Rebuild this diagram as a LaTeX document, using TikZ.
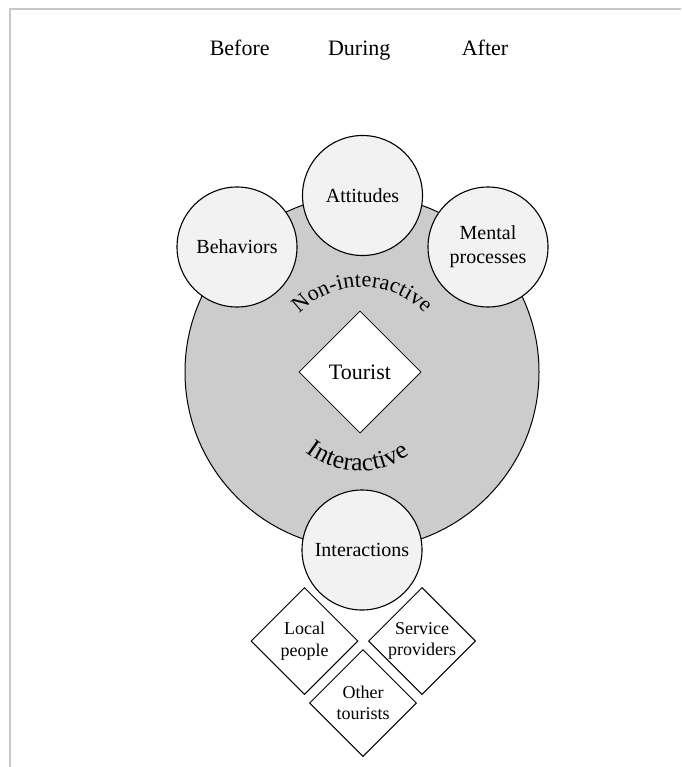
\documentclass[tikz,border=0pt]{standalone}
\usepackage{fontspec}
\setmainfont{Liberation Serif}
\usetikzlibrary{shapes.geometric,decorations.text,shadows}
\definecolor{discgray}{HTML}{CCCCCC}
\definecolor{bubble}{HTML}{F2F2F2}
\definecolor{framegray}{HTML}{C8C8C8}
\begin{document}
\begin{tikzpicture}[x=1pt,y=-1pt,
  phase/.style={anchor=base,inner sep=0pt,font=\fontsize{22}{26}\selectfont},
  bigdisc/.style={circle,draw,line width=1pt,fill=discgray,minimum size=354pt,inner sep=0pt},
  bubblenode/.style={circle,draw,line width=1.1pt,fill=bubble,minimum size=120pt,inner sep=0pt,
    align=center,font=\fontsize{20}{24}\selectfont},
  tourbox/.style={diamond,draw,line width=0.8pt,fill=white,minimum width=122pt,minimum height=122pt,inner sep=0pt,
    drop shadow={opacity=0.25,shadow xshift=0.8pt,shadow yshift=-1.2pt},font=\fontsize{22}{26}\selectfont},
  partner/.style={diamond,draw,line width=1pt,fill=white,minimum width=107pt,minimum height=107pt,inner sep=0pt},
  partnertext/.style={align=center,inner sep=0pt,font=\fontsize{18}{21.5}\selectfont}
]
\useasboundingbox (0,0) rectangle (681,767);
% page frame
\draw[framegray,line width=2pt] (9.5,767) -- (9.5,9.5) -- (681,9.5);

% phases
\node[phase] (before) at (239.7,55.5) {Before};
\node[phase] (during) at (359.2,55.5) {During};
\node[phase] (after)  at (485,55.5) {After};

% central disc with the tourist
\node[bigdisc] (disc) at (362,372) {};
\node[tourbox] (tourist) at (360,372) {Tourist};

% curved labels inside the disc
\coordinate (upperhub) at (362,374);
\coordinate (lowerhub) at (359,385);
\path[decorate,decoration={text along path,text align=fit to path,
    text={|\fontsize{22}{22}\selectfont|Non-interactive}}]
  (upperhub) ++(136:87pt) arc[start angle=136,end angle=44,radius=87pt];
\path[decorate,decoration={text along path,text align=fit to path,
    text={|\fontsize{25.5}{25.5}\selectfont|Interactive}}]
  (lowerhub) ++(232:86pt) arc[start angle=232,end angle=306,radius=86pt];

% facets around the disc
\node[bubblenode] (behaviors) at (237,247) {Behaviors};
\node[bubblenode] (attitudes) at (362.5,195.5) {Attitudes};
\node[bubblenode] (mental) at (488,247) {Mental\\processes};
\node[bubblenode] (interactions) at (362,550) {Interactions};

% interaction partners
\node[partner] (local) at (304.5,641) {};
\node[partnertext] at (local.center) {Local\\people};
\node[partner] (service) at (422,641) {};
\node[partnertext] at (service.center) {Service\\providers};
\node[partner] (others) at (363,703) {};
\node[partnertext] at (others.center) {Other\\tourists};
\end{tikzpicture}
\end{document}
